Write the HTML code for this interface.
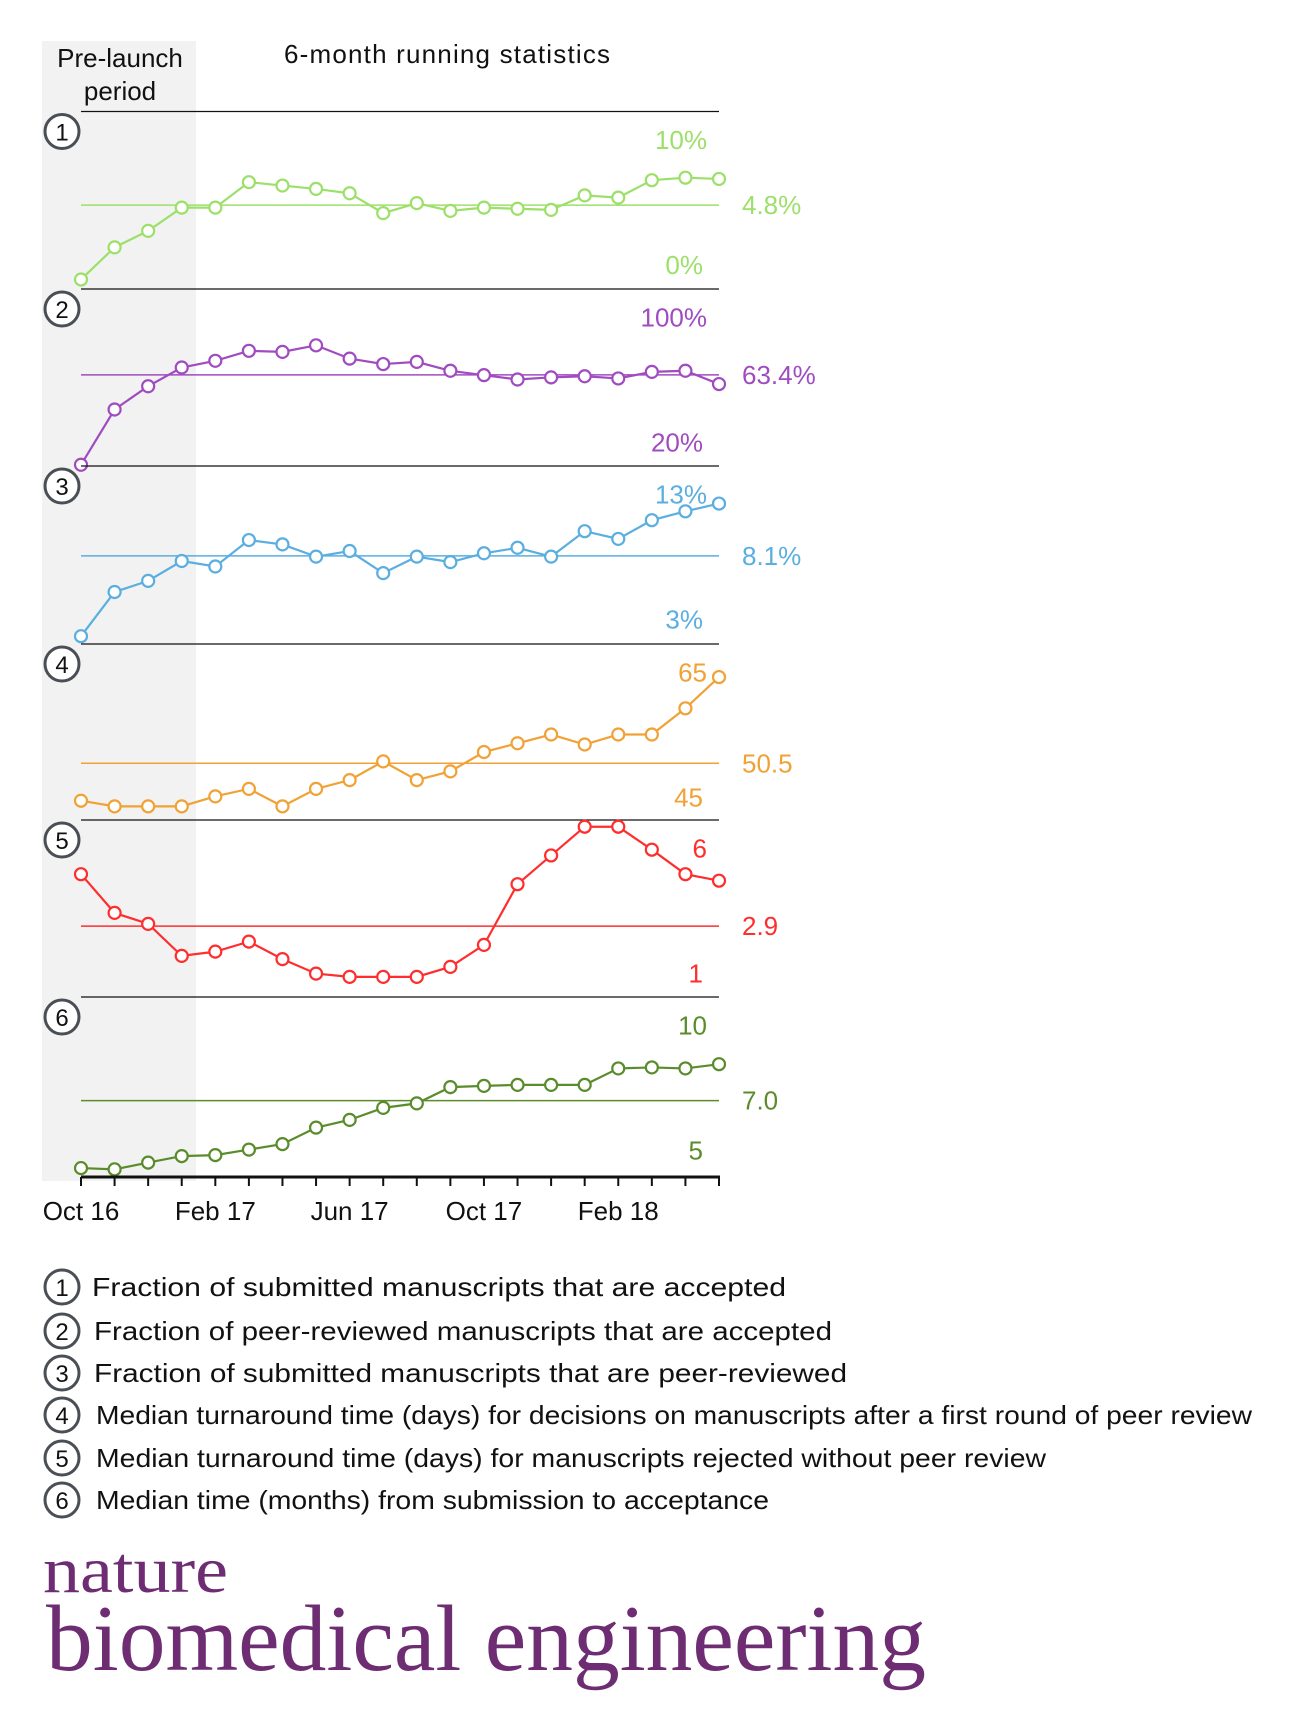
<!DOCTYPE html>
<html><head><meta charset="utf-8"><style>
html,body{margin:0;padding:0;background:#fff;}
svg{display:block;font-family:"Liberation Sans",sans-serif;}
</style></head><body>
<svg id="chart" width="1292" height="1732" viewBox="0 0 1292 1732" xmlns="http://www.w3.org/2000/svg">
<rect x="42" y="41" width="154" height="1140" fill="#f2f2f2"/>
<text x="120" y="67" font-size="26" text-anchor="middle" fill="#111">Pre-launch</text>
<text x="120" y="100" font-size="26" text-anchor="middle" fill="#111">period</text>
<text x="447" y="63" font-size="26" text-anchor="middle" fill="#111" textLength="326">6-month running statistics</text>
<g id="panels"></g>
<g id="xaxis"></g>
<g id="legend"></g>
<text x="43" y="1592" font-family="Liberation Serif, serif" font-size="66" fill="#6e2c73" textLength="185" lengthAdjust="spacingAndGlyphs">nature</text>
<text x="46" y="1670" font-family="Liberation Serif, serif" font-size="94" fill="#6e2c73" textLength="880" lengthAdjust="spacingAndGlyphs">biomedical engineering</text>
</svg>
<script>
const months = ["Oct 16","Nov 16","Dec 16","Jan 17","Feb 17","Mar 17","Apr 17","May 17","Jun 17","Jul 17","Aug 17","Sep 17","Oct 17","Nov 17","Dec 17","Jan 18","Feb 18","Mar 18","Apr 18","May 18"];
const xTickLabels = ["Oct 16","Feb 17","Jun 17","Oct 17","Feb 18"];
const accepted = [-1.15,1.42,2.74,4.6,4.6,6.64,6.37,6.1,5.75,4.16,4.96,4.34,4.6,4.51,4.42,5.58,5.4,6.8,7.0,6.9];
const reviewedAccepted = [5.8,41.2,56.1,68.1,72.4,78.8,78.1,82.3,73.8,70.3,71.7,66.0,63.2,60.4,61.8,62.5,61.1,65.3,66.0,57.5];
const peerReviewed = [1.67,5.21,6.1,7.69,7.25,9.37,9.02,8.04,8.49,6.72,8.04,7.6,8.31,8.75,8.04,10.08,9.46,10.96,11.67,12.29];
const turnaroundReview = [44.5,43.6,43.6,43.6,45.2,46.4,43.6,46.4,47.8,50.8,47.8,49.2,52.3,53.7,55.1,53.5,55.1,55.1,59.3,64.3];
const turnaroundReject = [4.98,3.43,2.99,1.71,1.88,2.28,1.58,1.0,0.87,0.87,0.87,1.27,2.15,4.58,5.73,6.88,6.88,5.96,4.98,4.72];
const timeToAccept = [4.3,4.25,4.52,4.78,4.82,5.04,5.26,5.92,6.23,6.71,6.89,7.54,7.59,7.63,7.63,7.63,8.29,8.33,8.29,8.46];
const refValues = [4.8,63.4,8.1,50.5,2.9,7.0];
const refLabels = ["4.8%","63.4%","8.1%","50.5","2.9","7.0"];
const tickLows = [0,20,3,45,1,5];
const tickHighs = [10,100,13,65,6,10];
const lowLabels = ["0%","20%","3%","45","1","5"];
const highLabels = ["10%","100%","13%","65","6","10"];
const legendTexts = ["Fraction of submitted manuscripts that are accepted","Fraction of peer-reviewed manuscripts that are accepted","Fraction of submitted manuscripts that are peer-reviewed","Median turnaround time (days) for decisions on manuscripts after a first round of peer review","Median turnaround time (days) for manuscripts rejected without peer review","Median time (months) from submission to acceptance"];

const series = [accepted,reviewedAccepted,peerReviewed,turnaroundReview,turnaroundReject,timeToAccept];
const colors = ["#9ce06a","#a04cc0","#5aaee0","#f0a236","#ff2e2e","#5a8c2c"];
const names = ["accepted","reviewed-accepted","peer-reviewed","turnaround-review","turnaround-reject","time-to-accept"];
const panelTops = [111.5,289,466,644,820,997];
const NS="http://www.w3.org/2000/svg";
const X0=81, X1=719, AXIS_Y=1177;
function xScale(i){return X0+(X1-X0)*i/(months.length-1);}
function mk(tag,attrs,parent){const e=document.createElementNS(NS,tag);for(const k in attrs)e.setAttribute(k,attrs[k]);parent.appendChild(e);return e;}
const panels=document.getElementById('panels');
const lens=[[92,786],[94,832],[94,847],[96,1252],[96,1046],[96,769]];
for(let p=0;p<6;p++){
  const top=panelTops[p];
  const yHi=top+28.7, yLo=top+153.6;
  const lo=tickLows[p], hi=tickHighs[p];
  const yScale=v=>yLo+(v-lo)/(hi-lo)*(yHi-yLo);
  const g=mk('g',{},panels);
  
  
  const sep=mk('line',{x1:X0,x2:X1,y1:top,y2:top,stroke:'#111','stroke-width':1.3},g);
  
  
  const c=mk('circle',{cx:62,cy:top+20,r:17,fill:'#fff',stroke:'#4a4f55','stroke-width':3},g);
  
  
  const ct=mk('text',{x:62,y:top+29,'font-size':24,'text-anchor':'middle',fill:'#111'},g);
  ct.textContent=String(p+1);
  
  
  const ry=yScale(refValues[p]);
  const rl=mk('line',{x1:X0,x2:X1,y1:ry,y2:ry,stroke:colors[p],'stroke-width':1.5},g);
  
  
  const rt=mk('text',{x:742,y:ry+9,'font-size':26,fill:colors[p]},g);
  rt.textContent=refLabels[p];
  
  
  const ht=mk('text',{x:707,y:yScale(hi)+9,'font-size':26,'text-anchor':'end',fill:colors[p]},g);
  ht.textContent=highLabels[p];
  
  
  const lt=mk('text',{x:703,y:yScale(lo)+9,'font-size':26,'text-anchor':'end',fill:colors[p]},g);
  lt.textContent=lowLabels[p];
  
  
  const vals=series[p];
  const pts=vals.map((v,i)=>xScale(i)+','+yScale(v)).join(' ');
  const pl=mk('polyline',{points:pts,fill:'none',stroke:colors[p],'stroke-width':2.2},g);
  
  
  vals.forEach((v,i)=>{
    const m=mk('circle',{cx:xScale(i),cy:yScale(v),r:6,fill:'#fff',stroke:colors[p],'stroke-width':2.2},g);
    
    
  });
}
const xa=document.getElementById('xaxis');
const axl=mk('line',{x1:X0,x2:X1+1,y1:AXIS_Y,y2:AXIS_Y,stroke:'#111','stroke-width':3},xa);


months.forEach((m,i)=>{
  const t=mk('line',{x1:xScale(i),x2:xScale(i),y1:AXIS_Y,y2:AXIS_Y+9,stroke:'#111','stroke-width':2},xa);
  
  
  if(xTickLabels.includes(m)){
    const tl=mk('text',{x:xScale(i),y:1220,'font-size':26,'text-anchor':'middle',fill:'#111'},xa);
    tl.textContent=m;
    
    
  }
});
const lg=document.getElementById('legend');
const legendY=[1287,1331,1373,1415,1458,1500];
legendTexts.forEach((txt,i)=>{
  const y=legendY[i];
  const c=mk('circle',{cx:62,cy:y,r:17,fill:'#fff',stroke:'#4a4f55','stroke-width':3},lg);
  
  
  const n=mk('text',{x:62,y:y+9,'font-size':24,'text-anchor':'middle',fill:'#111'},lg);
  n.textContent=String(i+1);
  
  
  const t=mk('text',{x:lens[i][0],y:y+9,'font-size':26,fill:'#111',textLength:lens[i][1]-lens[i][0],lengthAdjust:'spacingAndGlyphs'},lg);
  t.textContent=txt;
  
  
});
</script>
</body></html>
